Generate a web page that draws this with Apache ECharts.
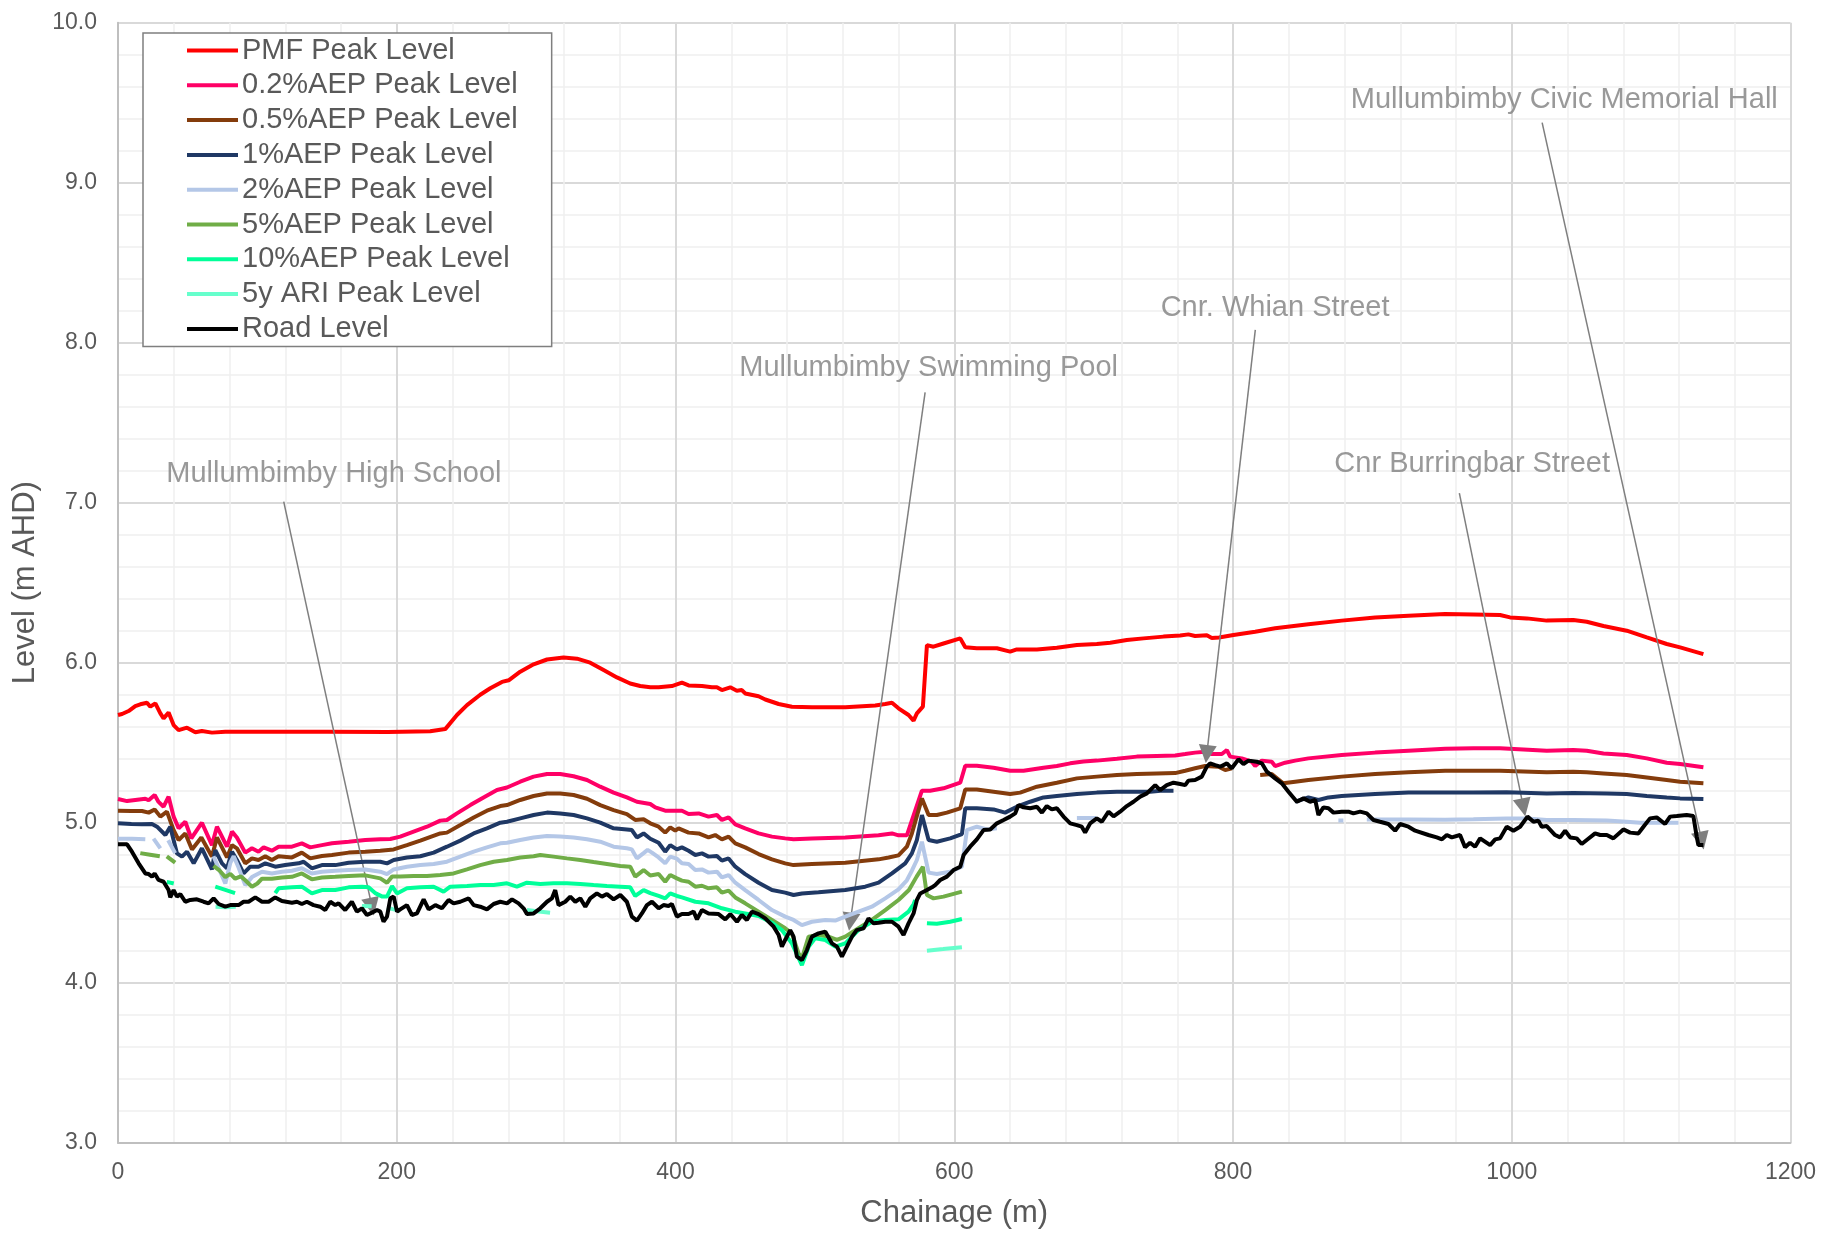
<!DOCTYPE html>
<html>
<head>
<meta charset="utf-8">
<script src="https://cdn.jsdelivr.net/npm/echarts@6/dist/echarts.min.js"></script>
<style>
html,body{margin:0;padding:0;background:#fff;}
#chart{width:1829px;height:1235px;}
</style>
</head>
<body>
<div id="chart"></div>
<script>
// ---- Data (chainage m, level m AHD); null = gap ----
const seriesNames = ['PMF Peak Level','0.2%AEP Peak Level','0.5%AEP Peak Level','1%AEP Peak Level','2%AEP Peak Level','5%AEP Peak Level','10%AEP Peak Level','5y ARI Peak Level','Road Level'];

const pmf = [[0,5.673],[2.9,5.679],[7.6,5.698],[12.4,5.729],[16,5.74],[20.8,5.75],[23.2,5.725],[26.8,5.746],[30.4,5.683],[32.7,5.652],[36.3,5.688],[39.9,5.61],[43.5,5.579],[49.5,5.594],[55.5,5.565],[60.2,5.573],[67.4,5.563],[77,5.569],[93.7,5.569],[150,5.569],[193.7,5.567],[224,5.571],[234.8,5.585],[243.2,5.673],[250.4,5.735],[259.9,5.8],[267.1,5.84],[275.5,5.88],[280.3,5.89],[288.6,5.944],[298.2,5.99],[307.8,6.02],[319.7,6.033],[329.3,6.025],[338.8,6.0],[348.4,5.954],[358,5.908],[367.5,5.87],[374.7,5.854],[381.9,5.846],[387.9,5.846],[397.4,5.854],[404.6,5.875],[409.4,5.858],[419,5.854],[426.1,5.846],[429.7,5.846],[433.3,5.829],[439.3,5.846],[444,5.825],[447.6,5.829],[450,5.808],[459.6,5.79],[464.4,5.77],[474,5.742],[483.5,5.725],[497.9,5.721],[521.8,5.721],[543.3,5.733],[550.5,5.742],[555.3,5.75],[560,5.715],[567.2,5.673],[570.8,5.638],[573.2,5.683],[577.5,5.725],[580.4,6.11],[585.1,6.1],[592.3,6.12],[604.3,6.152],[607.9,6.096],[616.2,6.09],[630.6,6.09],[640.1,6.069],[644.9,6.083],[659.3,6.083],[673.6,6.094],[688,6.11],[702.3,6.117],[711.9,6.125],[723.8,6.142],[735.8,6.152],[750.1,6.163],[762.1,6.17],[768,6.177],[772.8,6.167],[781.2,6.171],[784.8,6.154],[790,6.158],[800.3,6.173],[815.9,6.194],[830.2,6.215],[854.1,6.24],[878,6.263],[902,6.283],[925.9,6.294],[952.2,6.304],[972.5,6.302],[991.6,6.298],[998.8,6.283],[1010.8,6.277],[1025.1,6.263],[1044.2,6.267],[1053.8,6.256],[1065.8,6.229],[1082.5,6.2],[1096.9,6.158],[1111.2,6.117],[1120.8,6.096],[1137.5,6.054]];

const aep02 = [[0,5.148],[6.5,5.135],[12.4,5.142],[19.6,5.15],[22,5.14],[26.3,5.173],[29.1,5.13],[32.7,5.1],[36.3,5.163],[39.9,5.038],[43.5,4.965],[48.3,5.006],[52.6,4.902],[60.2,5.0],[67.4,4.86],[71,4.975],[78.2,4.85],[81.8,4.944],[85.3,4.908],[91.3,4.813],[96.1,4.84],[100.8,4.819],[104.5,4.846],[110.4,4.825],[115.2,4.85],[124.8,4.85],[131.9,4.871],[137.9,4.846],[146.3,4.86],[153.5,4.871],[165.5,4.881],[177.4,4.892],[188.2,4.896],[195.4,4.898],[202.5,4.913],[212.1,4.944],[221.7,4.975],[231.2,5.013],[236,5.017],[243.2,5.058],[252.8,5.11],[262.3,5.158],[271.9,5.204],[279.1,5.22],[288.6,5.256],[298.2,5.288],[307.8,5.304],[317.3,5.304],[326.9,5.29],[336.5,5.267],[346,5.225],[355.6,5.188],[365.1,5.158],[372.3,5.131],[381.9,5.117],[385.5,5.096],[392.6,5.075],[404.6,5.075],[409.4,5.054],[416.6,5.058],[423.7,5.038],[429.7,5.048],[433.3,5.017],[438.1,5.033],[442.9,4.99],[450,4.965],[459.6,4.933],[469.2,4.913],[478.7,4.902],[484.7,4.896],[497.9,4.902],[521.8,4.908],[545.7,4.921],[555.3,4.933],[560,4.921],[566,4.921],[576.8,5.2],[582.7,5.2],[592.3,5.215],[604.3,5.25],[607.9,5.356],[616.2,5.356],[628.2,5.344],[640.1,5.325],[649.7,5.325],[664,5.344],[673.6,5.354],[683.2,5.371],[692.7,5.383],[702.3,5.388],[716.7,5.4],[731,5.413],[745.3,5.417],[758.5,5.42],[765.7,5.429],[772.8,5.438],[780,5.444],[784.8,5.429],[792,5.429],[795.6,5.454],[798,5.413],[806.3,5.402],[813.5,5.381],[815.9,5.354],[820.7,5.388],[827.8,5.381],[830.2,5.354],[837.4,5.375],[844.6,5.388],[854.1,5.402],[878,5.423],[902,5.438],[925.9,5.45],[952.2,5.462],[972.5,5.465],[991.6,5.465],[1008.4,5.458],[1025.1,5.45],[1044.2,5.454],[1053.8,5.45],[1065.8,5.433],[1082.5,5.423],[1096.9,5.402],[1111.2,5.375],[1120.8,5.367],[1137.5,5.346]];

const aep05 = [[0,5.075],[9.6,5.073],[17.2,5.073],[22,5.063],[26.3,5.083],[30.4,5.038],[35.1,5.069],[39.9,4.954],[43.5,4.892],[48.3,4.933],[53.1,4.833],[59.8,4.908],[67.4,4.788],[71,4.908],[78.2,4.783],[81.8,4.86],[85.3,4.84],[91.3,4.746],[96.1,4.777],[100.8,4.767],[105.7,4.79],[110.4,4.767],[115.2,4.79],[124.8,4.783],[131.9,4.813],[137.9,4.777],[146.3,4.792],[153.5,4.798],[165.5,4.813],[177.4,4.819],[188.2,4.825],[197.8,4.833],[207.3,4.86],[216.9,4.888],[231.2,4.933],[236,4.938],[245.6,4.985],[255.2,5.033],[264.7,5.075],[274.3,5.104],[279.1,5.11],[288.6,5.142],[298.2,5.167],[307.8,5.183],[317.3,5.183],[326.9,5.173],[336.5,5.15],[346,5.11],[355.6,5.079],[365.1,5.054],[371.1,5.017],[377.1,5.021],[381.9,4.996],[387.9,4.975],[392.6,4.938],[396.2,4.971],[399.8,4.95],[402.2,4.965],[409.4,4.938],[416.6,4.933],[423.7,4.908],[428.5,4.923],[433.3,4.896],[438.1,4.913],[442.9,4.871],[450,4.846],[459.6,4.804],[469.2,4.771],[478.7,4.746],[484.7,4.735],[497.9,4.742],[521.8,4.75],[545.7,4.771],[552.9,4.783],[560,4.796],[566,4.85],[569.6,4.933],[576.8,5.152],[581.6,5.048],[587.5,5.048],[594.7,5.063],[604.3,5.09],[607.9,5.208],[616.2,5.208],[628.2,5.194],[640.1,5.179],[647.3,5.188],[659.3,5.225],[673.6,5.25],[688,5.277],[702.3,5.288],[716.7,5.298],[731,5.304],[745.3,5.308],[758.5,5.31],[765.7,5.325],[772.8,5.34],[780,5.354],[789.6,5.35],[794.4,5.329],[799.2,5.34],[800.5,null],[819.5,5.298],[827.8,5.304],[836,5.246],[844.6,5.256],[854.1,5.267],[878,5.288],[902,5.304],[925.9,5.315],[952.2,5.325],[991.6,5.325],[1025.1,5.315],[1044.2,5.319],[1053.8,5.315],[1065.8,5.308],[1082.5,5.298],[1096.9,5.283],[1111.2,5.267],[1120.8,5.256],[1137.5,5.246]];

const aep1 = [[0,4.996],[9.6,4.992],[17.2,4.99],[24.4,4.992],[28,4.975],[34,4.923],[37.5,4.975],[42.3,4.808],[45.9,4.788],[49.5,4.819],[54.3,4.746],[60.2,4.84],[67.4,4.708],[69.8,4.829],[74.6,4.746],[78.2,4.715],[81.8,4.819],[85.3,4.767],[90.1,4.683],[94.9,4.725],[100.8,4.725],[105.7,4.746],[112.8,4.725],[120,4.735],[129.6,4.746],[133.2,4.756],[139.1,4.715],[146.3,4.735],[155.9,4.735],[165.5,4.75],[177.4,4.756],[188.2,4.756],[193,4.746],[197.8,4.767],[207.3,4.783],[216.9,4.79],[226.5,4.813],[236,4.85],[245.6,4.888],[255.2,4.933],[264.7,4.965],[274.3,5.0],[279.1,5.006],[288.6,5.027],[298.2,5.048],[307.8,5.063],[317.3,5.058],[326.9,5.048],[336.5,5.027],[346,5.0],[355.6,4.965],[365.1,4.958],[368.7,4.954],[372.3,4.908],[377.1,4.933],[381.9,4.9],[387.9,4.875],[392.6,4.819],[396.2,4.86],[401,4.833],[404.6,4.846],[409.4,4.825],[414.2,4.798],[419,4.808],[423.7,4.788],[429.7,4.792],[433.3,4.763],[438.1,4.777],[442.9,4.725],[450,4.679],[459.6,4.625],[469.2,4.579],[478.7,4.563],[484.7,4.548],[490.7,4.558],[502.6,4.565],[521.8,4.579],[536.1,4.6],[545.7,4.625],[555.3,4.683],[564.8,4.746],[569.6,4.808],[573.2,4.892],[576.8,5.048],[581.6,4.892],[587.5,4.881],[597.1,4.902],[605.5,4.929],[607.9,5.09],[616.2,5.09],[628.2,5.083],[636.5,5.063],[644.9,5.1],[654.5,5.131],[664,5.158],[673.6,5.167],[688,5.179],[702.3,5.188],[716.7,5.194],[731,5.194],[740.6,5.194],[748,5.2],[757.3,5.2],[758,null],[844.6,5.131],[854.1,5.158],[861.3,5.142],[868.5,5.158],[878,5.167],[902,5.179],[925.9,5.188],[952.2,5.188],[972.5,5.188],[996.4,5.19],[1025.1,5.183],[1044.2,5.186],[1068.2,5.183],[1082.5,5.179],[1096.9,5.167],[1111.2,5.158],[1120.8,5.152],[1137.5,5.148]];

const aep2 = [[0,4.9],[10,4.9],[19.6,4.896],[20.5,null],[25.5,4.9],[30.4,4.84],[31.5,null],[36,4.89],[41,4.81],[42,null],[68.5,4.79],[72,4.72],[77,4.62],[80.6,4.75],[83,4.79],[86.5,4.72],[91.3,4.61],[96.1,4.66],[103.3,4.694],[110.4,4.683],[117.6,4.694],[124.8,4.7],[131.9,4.715],[139.1,4.683],[146.3,4.694],[155.9,4.7],[165.5,4.704],[177.4,4.708],[188.2,4.694],[193,4.679],[197.8,4.708],[207.3,4.725],[216.9,4.735],[226.5,4.742],[236,4.756],[245.6,4.788],[255.2,4.819],[264.7,4.846],[274.3,4.871],[279.1,4.875],[288.6,4.892],[298.2,4.908],[307.8,4.917],[317.3,4.913],[326.9,4.908],[336.5,4.896],[346,4.881],[355.6,4.85],[365.1,4.84],[368.7,4.833],[372.3,4.777],[377.1,4.81],[380,4.83],[383.1,4.813],[387.9,4.783],[392.6,4.746],[396.2,4.788],[401,4.775],[404.6,4.746],[409.4,4.742],[414.2,4.704],[419,4.708],[423.7,4.688],[429.7,4.694],[433.3,4.658],[438.1,4.673],[442.9,4.625],[450,4.579],[459.6,4.517],[469.2,4.454],[478.7,4.413],[484.7,4.392],[490.7,4.36],[497.9,4.381],[507.5,4.392],[514.6,4.388],[521.8,4.413],[531.3,4.444],[540.9,4.475],[550.5,4.527],[560,4.583],[566,4.64],[569.6,4.7],[573.2,4.767],[576.8,4.881],[581.6,4.688],[587.5,4.679],[597.1,4.694],[605.5,4.725],[609.1,4.954],[616.2,4.975],[623.4,4.958],[630.6,4.965],[631.5,null],[688,5.03],[702,5.03],[703,null],[875.6,5.013],[879.2,5.013],[880,null],[896,5.02],[925.9,5.02],[952.2,5.018],[972.5,5.022],[996.4,5.027],[1010.8,5.027],[1025.1,5.017],[1044.2,5.017],[1068.2,5.013],[1082.5,5.006],[1092.1,5.0],[1119.6,5.0]];

const aep5 = [[16,4.81],[23,4.8],[30,4.79],[31,null],[35,4.79],[41,4.75],[42,null],[68.5,4.73],[73,4.7],[77,4.66],[80.6,4.68],[84.1,4.65],[88,4.665],[91.3,4.64],[96.1,4.6],[100,4.62],[103.3,4.65],[110.4,4.65],[117.6,4.658],[124.8,4.662],[131.9,4.683],[139.1,4.646],[146.3,4.658],[155.9,4.662],[165.5,4.667],[177.4,4.671],[188.2,4.652],[193,4.625],[196.6,4.663],[202.5,4.663],[212.1,4.667],[221.7,4.667],[231.2,4.673],[240.8,4.683],[250.4,4.708],[259.9,4.735],[269.5,4.756],[279.1,4.767],[288.6,4.783],[298.2,4.79],[303,4.798],[312.5,4.788],[322.1,4.777],[331.7,4.767],[341.2,4.754],[350.8,4.742],[360.4,4.729],[367.5,4.725],[371.1,4.663],[377.1,4.704],[381.9,4.67],[387.9,4.679],[392.6,4.631],[396.2,4.673],[401,4.652],[404.6,4.638],[409.4,4.631],[414.2,4.6],[419,4.606],[423.7,4.59],[429.7,4.596],[433.3,4.563],[438.1,4.575],[442.9,4.533],[450,4.496],[459.6,4.444],[469.2,4.392],[478.7,4.34],[483.5,4.308],[488.3,4.183],[490.7,4.152],[495.5,4.288],[502.6,4.298],[509.8,4.288],[515.8,4.267],[521.8,4.288],[531.3,4.34],[540.9,4.392],[550.5,4.454],[560,4.517],[567.5,4.579],[573,4.663],[577.5,4.725],[580.4,4.548],[585.1,4.527],[592.3,4.538],[605.5,4.569]];

const aep10 = [[35,4.63],[40,4.62],[41,null],[69.8,4.6],[77,4.58],[84,4.56],[85,null],[112.8,4.56],[115.2,4.59],[124.8,4.596],[131.9,4.6],[139.1,4.558],[146.3,4.579],[155.9,4.579],[165.5,4.596],[175,4.6],[179.8,4.596],[184.9,4.558],[189.7,4.538],[193,4.538],[196.6,4.604],[200.2,4.558],[207.3,4.59],[216.9,4.596],[226.5,4.6],[233.6,4.569],[238.4,4.6],[250.4,4.604],[259.9,4.61],[269.5,4.61],[279.1,4.621],[286.2,4.6],[293.4,4.625],[303,4.617],[312.5,4.621],[322.1,4.621],[331.7,4.617],[341.2,4.61],[350.8,4.604],[360.4,4.6],[367.5,4.596],[371.1,4.542],[377.1,4.579],[381.9,4.56],[387.9,4.542],[392.6,4.527],[396.2,4.558],[401,4.542],[404.6,4.533],[414.2,4.506],[423.7,4.496],[433.3,4.465],[442.9,4.444],[450,4.433],[459.6,4.417],[469.2,4.375],[476.3,4.329],[483.5,4.246],[490.7,4.11],[495.5,4.225],[500.2,4.277],[507.5,4.267],[514.6,4.225],[521.8,4.246],[531.3,4.329],[540.9,4.381],[550.5,4.392],[560,4.396],[567.2,4.444],[570.8,4.49],[572,4.517],[573,null],[580.4,4.371],[587.5,4.368],[597.1,4.381],[605.5,4.398]];

const ari5 = [[70,4.475],[77,4.472],[84.5,4.475],[85,null],[175,4.48],[182,4.478],[185,null],[193,4.47],[197,4.46],[202.5,4.45],[203,null],[293.4,4.455],[302,4.445],[310,4.437],[311,null],[580.4,4.2],[592,4.21],[605.5,4.222]];

const road = [[0,4.865],[6.5,4.865],[10,4.819],[14.8,4.746],[19.6,4.683],[22,4.679],[24.4,4.663],[26.3,4.683],[29.1,4.642],[32.7,4.631],[36.3,4.579],[37.5,4.533],[39.9,4.579],[42.3,4.538],[44.7,4.554],[48.3,4.506],[51.9,4.517],[56.6,4.521],[61.4,4.506],[65,4.496],[68.6,4.527],[72.2,4.492],[77,4.475],[80.6,4.485],[86.5,4.485],[90.1,4.506],[93.7,4.506],[98.5,4.533],[103.3,4.506],[108.1,4.506],[112.8,4.533],[117.6,4.51],[124.8,4.5],[128.4,4.506],[131.9,4.492],[135.5,4.506],[140.3,4.485],[145.1,4.475],[148.7,4.454],[152.3,4.506],[155.9,4.485],[158.3,4.496],[163,4.454],[167.8,4.506],[171.4,4.444],[175,4.465],[178.6,4.423],[182.2,4.438],[185.8,4.454],[188.2,4.444],[190.5,4.381],[193,4.413],[195.4,4.527],[197.8,4.538],[200.2,4.444],[202.5,4.458],[207.3,4.485],[210.9,4.423],[214.5,4.433],[219.3,4.521],[222.9,4.458],[227.7,4.485],[232.4,4.465],[237.2,4.517],[240.8,4.496],[245.6,4.506],[251.6,4.527],[255.2,4.485],[259.9,4.475],[264.7,4.458],[269.5,4.492],[274.3,4.506],[279.1,4.496],[282.7,4.521],[287.4,4.496],[291,4.465],[293.4,4.429],[298.2,4.433],[303,4.465],[307.8,4.506],[311.3,4.527],[313.7,4.579],[316.1,4.485],[320.9,4.506],[324.5,4.538],[328.1,4.506],[331.7,4.527],[335.3,4.475],[338.8,4.527],[343.6,4.558],[347.2,4.538],[350.8,4.554],[355.6,4.521],[360.4,4.548],[365.1,4.506],[368.7,4.413],[372.3,4.388],[375.9,4.433],[379.5,4.485],[383.1,4.506],[387.9,4.465],[391.4,4.485],[395,4.48],[397.4,4.492],[401,4.413],[404.6,4.429],[409.4,4.429],[413,4.444],[415.4,4.396],[419,4.454],[423.7,4.433],[430.9,4.429],[435.7,4.396],[439.3,4.429],[444.1,4.381],[447.6,4.423],[451.2,4.392],[454.8,4.444],[459.6,4.429],[464.4,4.402],[470.4,4.35],[474,4.298],[476.3,4.225],[478.7,4.267],[482.3,4.329],[484.7,4.288],[487.1,4.163],[490.7,4.142],[494.3,4.204],[497.9,4.288],[502.6,4.308],[507.5,4.319],[512.2,4.246],[515.8,4.225],[519.4,4.163],[523,4.225],[526.6,4.288],[530.1,4.329],[534.9,4.34],[538.5,4.402],[542.1,4.371],[545.7,4.375],[550.5,4.381],[555.3,4.381],[560,4.35],[563.6,4.298],[567.2,4.371],[570.8,4.433],[573.2,4.517],[575.6,4.558],[580.4,4.579],[584,4.596],[586.3,4.61],[589.9,4.642],[594.7,4.663],[599.5,4.704],[604.3,4.725],[606.7,4.798],[611.4,4.85],[616.2,4.896],[621,4.954],[625.8,4.958],[630.6,4.996],[635.4,5.017],[640.1,5.038],[643.7,5.058],[646.1,5.11],[649.7,5.096],[654.5,5.09],[659.3,5.1],[662.9,5.063],[666.4,5.104],[670,5.083],[673.6,5.09],[678.4,5.038],[683.2,4.996],[688,4.985],[691.5,4.975],[693.9,4.938],[697.5,4.996],[702.3,5.027],[705.9,5.006],[710.7,5.069],[714.3,5.04],[719,5.069],[723.8,5.104],[728.6,5.131],[733.4,5.163],[738.2,5.183],[744.2,5.235],[747.7,5.204],[752.5,5.235],[757.3,5.25],[762.1,5.242],[765.7,5.235],[768,5.263],[772.8,5.267],[777.6,5.288],[781.2,5.35],[783.6,5.371],[787.2,5.36],[790.8,5.35],[795.6,5.371],[799.1,5.34],[803.9,5.396],[807.5,5.367],[811.1,5.388],[817.1,5.381],[820.7,5.371],[824.3,5.319],[830.2,5.277],[835,5.246],[839.8,5.194],[845.8,5.131],[850.6,5.152],[855.3,5.131],[859,5.142],[861.3,5.048],[864.9,5.096],[868.5,5.09],[872.1,5.063],[878,5.069],[882.8,5.069],[886.4,5.058],[891.2,5.069],[896,5.058],[900.8,5.017],[905.5,5.006],[911.5,4.992],[916.3,4.95],[919.9,4.992],[925.9,4.975],[930.7,4.95],[940.2,4.923],[946.2,4.908],[949.9,4.896],[953.4,4.923],[957,4.908],[962.9,4.923],[966.5,4.846],[970.1,4.875],[973.7,4.85],[977.3,4.902],[984.5,4.86],[988.1,4.896],[991.6,4.902],[996.4,4.975],[1001.2,4.95],[1006,4.975],[1011.3,5.038],[1015.6,5.006],[1019.1,5.013],[1021.5,4.975],[1025.1,4.979],[1031.1,4.923],[1034.7,4.908],[1038.3,4.95],[1041.9,4.908],[1046.6,4.902],[1050.2,4.867],[1053.8,4.892],[1059.8,4.933],[1063.4,4.923],[1068.2,4.923],[1072.9,4.902],[1080.1,4.958],[1084.9,4.938],[1090.9,4.933],[1094.5,4.975],[1099.2,5.027],[1104,5.033],[1110,4.992],[1113.6,5.038],[1118.4,5.042],[1125.5,5.048],[1130.3,5.042],[1132.7,4.913],[1133.9,4.86],[1137.5,4.86]];

// Annotations: label text, label anchor (data coords), arrow start, arrow tip
const annoText  = ['Mullumbimby High School','Mullumbimby Swimming Pool','Cnr. Whian Street','Cnr Burringbar Street','Mullumbimby Civic Memorial Hall'];
const annoLabel = [[154.9,7.18],[581.6,7.84],[830.2,8.22],[971.6,7.24],[1037.7,9.52]];
const annoFrom  = [[118.9,7.007],[579.1,7.69],[816,8.08],[962.4,7.06],[1021.8,9.376]];
const annoTo    = [[182.2,4.475],[525.4,4.381],[781.2,5.429],[1008.4,5.096],[1136.3,4.8875]];

// x and y tick settings
const xTicks = {min:0, max:1200, interval:200};
const yTicks = {min:3, max:10, interval:1};

const colors = ['#FF0000','#FF0066','#843C0C','#1F3864','#B4C7E7','#70AD47','#00FF99','#66FFCC','#000000'];
const allData = [pmf, aep02, aep05, aep1, aep2, aep5, aep10, ari5, road];

const FONT = "'Liberation Sans', Arial, sans-serif";
const toSeriesData = arr => arr.map(p => p[1] === null ? [p[0], '-'] : p);

const lineSeries = allData.map((d, i) => ({
  name: seriesNames[i],
  type: 'line',
  data: toSeriesData(d),
  showSymbol: false,
  symbol: 'none',
  connectNulls: false,
  lineStyle: {color: colors[i], width: 4},
  itemStyle: {color: colors[i]},
  z: 2 + i
}));

const arrowSeries = {
  name: 'arrows',
  type: 'line',
  data: [],
  z: 20,
  itemStyle: {color: '#7F7F7F'},
  markLine: {
    silent: true,
    animation: false,
    symbol: ['none', 'triangle'],
    symbolSize: 18,
    label: {show: false},
    itemStyle: {color: '#7F7F7F'},
    lineStyle: {color: '#7F7F7F', width: 1.5, type: 'solid'},
    emphasis: {disabled: true},
    data: annoFrom.map((f, i) => [{coord: f}, {coord: annoTo[i]}])
  }
};

const labelSeries = {
  name: 'labels',
  type: 'scatter',
  z: 21,
  symbolSize: 1,
  itemStyle: {color: 'rgba(0,0,0,0)'},
  data: annoLabel.map((p, i) => [p[0], p[1], annoText[i]]),
  label: {
    show: true,
    position: 'inside',
    formatter: p => p.value[2],
    color: '#7F7F7F',
    fontSize: 29,
    fontFamily: FONT
  }
};

const chart = echarts.init(document.getElementById('chart'), null, {renderer: 'canvas'});
chart.setOption({
  animation: false,
  backgroundColor: '#ffffff',
  grid: {left: 118, right: 38.5, top: 22.7, bottom: 92.3, containLabel: false},
  legend: {
    data: seriesNames,
    orient: 'vertical',
    left: 143,
    top: 33,
    padding: [3, 34, 3, 44],
    itemGap: 5.8,
    itemWidth: 51,
    itemHeight: 4,
    icon: 'rect',
    backgroundColor: '#ffffff',
    borderColor: '#7F7F7F',
    borderWidth: 1.5,
    borderRadius: 0,
    textStyle: {fontSize: 29, color: '#595959', fontFamily: FONT, padding: [0, 0, 0, -1]}
  },
  xAxis: {
    type: 'value',
    min: xTicks.min, max: xTicks.max, interval: xTicks.interval,
    name: 'Chainage (m)',
    nameLocation: 'middle',
    nameGap: 55,
    nameTextStyle: {fontSize: 31, color: '#595959', fontFamily: FONT},
    axisLine: {show: true, lineStyle: {color: '#BFBFBF', width: 2}},
    axisTick: {show: false},
    axisLabel: {fontSize: 23, color: '#595959', fontFamily: FONT, margin: 18, formatter: v => String(v)},
    splitLine: {show: true, lineStyle: {color: '#D9D9D9', width: 2}},
    minorTick: {show: false, splitNumber: 5},
    minorSplitLine: {show: true, lineStyle: {color: '#EFEFEF', width: 1.5}}
  },
  yAxis: {
    type: 'value',
    min: yTicks.min, max: yTicks.max, interval: yTicks.interval,
    name: 'Level (m AHD)',
    nameLocation: 'middle',
    nameGap: 76,
    nameRotate: 90,
    nameTextStyle: {fontSize: 31, color: '#595959', fontFamily: FONT},
    axisLine: {show: true, lineStyle: {color: '#BFBFBF', width: 2}},
    axisTick: {show: false},
    axisLabel: {fontSize: 23, color: '#595959', fontFamily: FONT, margin: 21, formatter: v => v.toFixed(1)},
    splitLine: {show: true, lineStyle: {color: '#D9D9D9', width: 2}},
    minorTick: {show: false, splitNumber: 5},
    minorSplitLine: {show: true, lineStyle: {color: '#EFEFEF', width: 1.5}}
  },
  series: [...lineSeries, arrowSeries, labelSeries]
});
</script>
</body>
</html>
